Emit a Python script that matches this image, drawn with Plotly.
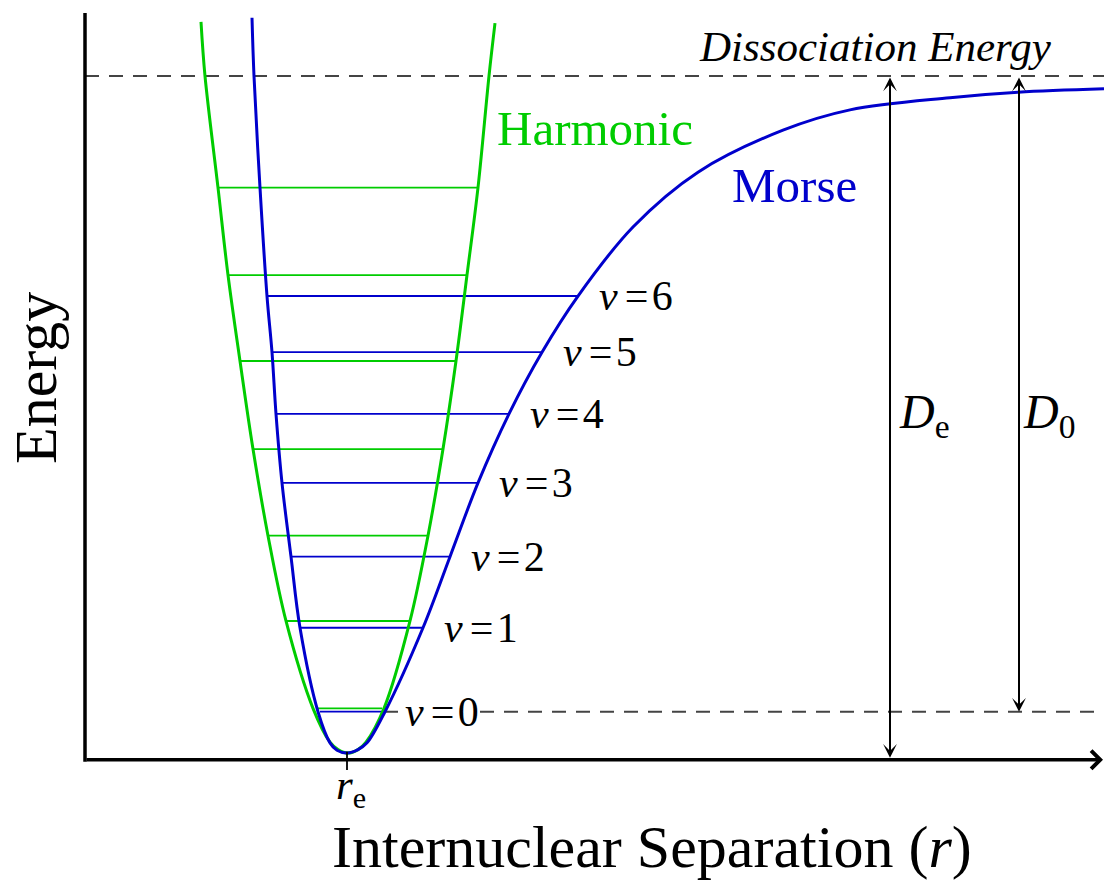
import plotly.graph_objects as go

# ---- data (r in arbitrary units, energy in units where De = 10) ----
morse_r = [1.67, 1.69, 1.75, 1.82, 1.87, 1.91, 1.97, 2.06, 2.15, 2.33, 2.45, 2.52, 2.62,
           2.73, 2.82, 3.00, 3.38, 3.65, 3.93, 4.24, 4.57, 4.93, 5.48, 6.13, 6.98, 7.65,
           8.65, 9.33, 10.19]
morse_E = [10.86, 10.0, 8.35, 6.75, 5.92, 5.01, 3.99, 2.90, 1.85, 0.61, 0.15, 0.04, 0.0,
           0.05, 0.15, 0.61, 1.85, 2.90, 3.99, 5.01, 5.92, 6.75, 7.77, 8.58, 9.20, 9.50,
           9.68, 9.76, 9.81]

harm_r = [1.16, 1.20, 1.33, 1.43, 1.55, 1.68, 1.83, 2.01, 2.28, 2.45, 2.53, 2.63,
          2.73, 2.81, 2.99, 3.25, 3.43, 3.58, 3.71, 3.82, 3.93, 4.04, 4.10]
harm_E = [10.80, 10.0, 8.35, 7.06, 5.79, 4.49, 3.21, 1.95, 0.66, 0.16, 0.05, 0.0,
          0.05, 0.16, 0.66, 1.95, 3.21, 4.49, 5.79, 7.06, 8.35, 10.0, 10.78]

morse_level_E = [0.61, 1.85, 2.90, 3.99, 5.01, 5.92, 6.75]
morse_level_left = [2.35, 2.15, 2.06, 1.97, 1.91, 1.87, 1.82]
morse_level_right = [2.99, 3.38, 3.65, 3.93, 4.24, 4.57, 4.93]

harm_level_E = [0.66, 1.95, 3.21, 4.49, 5.79, 7.06, 8.35]
harm_level_left = [2.31, 2.02, 1.84, 1.68, 1.55, 1.42, 1.33]
harm_level_right = [2.97, 3.24, 3.43, 3.58, 3.70, 3.82, 3.93]

level_labels = ["0", "1", "2", "3", "4", "5", "6"]

r_e = 2.62
D_e = 10.0
D_0 = D_e - morse_level_E[0]
r_max = 10.19
E_axis = -0.10
E_top = 10.93
r_De_arrow = 8.05
r_D0_arrow = 9.34

GREEN = "#00cc00"
BLUE = "#0000cc"
DASH = "#444444"
FONT = "Liberation Serif, Times New Roman, serif"


def segments(lefts, rights, ys):
    xs, yy = [], []
    for a, b, y in zip(lefts, rights, ys):
        xs += [a, b, None]
        yy += [y, y, None]
    return xs, yy


fig = go.Figure()

# level lines
hx, hy = segments(harm_level_left, harm_level_right, harm_level_E)
fig.add_trace(go.Scatter(x=hx, y=hy, mode="lines", line=dict(color=GREEN, width=1.8),
                         hoverinfo="skip"))
mx, my = segments(morse_level_left, morse_level_right, morse_level_E)
fig.add_trace(go.Scatter(x=mx, y=my, mode="lines", line=dict(color=BLUE, width=1.8),
                         hoverinfo="skip"))

# dashed lines
fig.add_trace(go.Scatter(x=[0, r_max], y=[D_e, D_e], mode="lines",
                         line=dict(color=DASH, width=2, dash="14px,10px"), hoverinfo="skip"))
fig.add_trace(go.Scatter(x=[morse_level_right[0], r_max], y=[morse_level_E[0]] * 2, mode="lines",
                         line=dict(color=DASH, width=2, dash="14px,10px"), hoverinfo="skip"))

# curves
fig.add_trace(go.Scatter(x=harm_r, y=harm_E, mode="lines",
                         line=dict(color=GREEN, width=3, shape="spline", smoothing=1),
                         hoverinfo="skip"))
fig.add_trace(go.Scatter(x=morse_r, y=morse_E, mode="lines",
                         line=dict(color=BLUE, width=3, shape="spline", smoothing=1),
                         hoverinfo="skip"))

# axes
fig.add_trace(go.Scatter(x=[0, 0], y=[E_axis - 0.03, E_top], mode="lines",
                         line=dict(color="black", width=3.5), hoverinfo="skip"))
fig.add_trace(go.Scatter(x=[r_e, r_e], y=[0.02, -0.25], mode="lines",
                         line=dict(color="black", width=1.8), hoverinfo="skip"))

ann = []
# x axis arrow
ann.append(dict(x=r_max - 0.01, y=E_axis, ax=0, ay=E_axis, xref="x", yref="y",
                axref="x", ayref="y", text="", showarrow=True, arrowhead=4,
                arrowsize=1, arrowwidth=3.5, arrowcolor="black"))
# De arrow
ann.append(dict(x=r_De_arrow, y=E_axis + 0.03, ax=r_De_arrow, ay=D_e, xref="x", yref="y",
                axref="x", ayref="y", text="", showarrow=True, arrowhead=3,
                startarrowhead=3, arrowside="end+start", arrowsize=1.15,
                startarrowsize=1.15, arrowwidth=2, arrowcolor="black"))
# D0 arrow
ann.append(dict(x=r_D0_arrow, y=morse_level_E[0], ax=r_D0_arrow, ay=D_e, xref="x", yref="y",
                axref="x", ayref="y", text="", showarrow=True, arrowhead=3,
                startarrowhead=3, arrowside="end+start", arrowsize=1.15,
                startarrowsize=1.15, arrowwidth=2, arrowcolor="black"))

# v labels
for i, (lab, xr, e) in enumerate(zip(level_labels, morse_level_right, morse_level_E)):
    ann.append(dict(x=xr + 0.20, y=e, xref="x", yref="y", xanchor="left", yanchor="middle",
                    text="<i>v</i>\u200a\u200a=\u200a" + lab, showarrow=False,
                    bgcolor="white" if i == 0 else None, borderpad=0,
                    font=dict(family=FONT, size=42, color="black")))

ann.append(dict(x=5.10, y=9.23, xref="x", yref="y", text="Harmonic", showarrow=False,
                font=dict(family=FONT, size=49, color=GREEN)))
ann.append(dict(x=7.09, y=8.39, xref="x", yref="y", text="Morse", showarrow=False,
                font=dict(family=FONT, size=49, color=BLUE)))
ann.append(dict(x=7.90, y=10.44, xref="x", yref="y", text="<i>Dissociation Energy</i>",
                showarrow=False, font=dict(family=FONT, size=43, color="black")))
ann.append(dict(x=r_De_arrow + 0.07, y=5.0, xref="x", yref="y", xanchor="left",
                text="<i>D</i><sub>e</sub>", showarrow=False,
                font=dict(family=FONT, size=48, color="black")))
ann.append(dict(x=r_D0_arrow + 0.02, y=5.0, xref="x", yref="y", xanchor="left",
                text="<i>D</i><sub>0</sub>", showarrow=False,
                font=dict(family=FONT, size=48, color="black")))
ann.append(dict(x=r_e - 0.12, y=-0.52, xref="x", yref="y", xanchor="left",
                text="<i>r</i><sub>e</sub>", showarrow=False, borderpad=0,
                font=dict(family=FONT, size=43, color="black")))
ann.append(dict(x=5.67, y=-1.39, xref="x", yref="y",
                text="Internuclear Separation (<i>r</i>)", showarrow=False, borderpad=0,
                font=dict(family=FONT, size=60, color="black")))
ann.append(dict(x=-0.49, y=5.54, xref="x", yref="y", text="Energy", textangle=-90,
                showarrow=False, font=dict(family=FONT, size=60, color="black")))

fig.update_layout(
    width=1104, height=881, margin=dict(l=0, r=0, t=0, b=0),
    paper_bgcolor="white", plot_bgcolor="white", showlegend=False,
    xaxis=dict(range=[-0.85, 10.19], visible=False, fixedrange=True),
    yaxis=dict(range=[-1.8907, 11.1226], visible=False, fixedrange=True),
    annotations=ann,
)

fig.write_html("out.html")
